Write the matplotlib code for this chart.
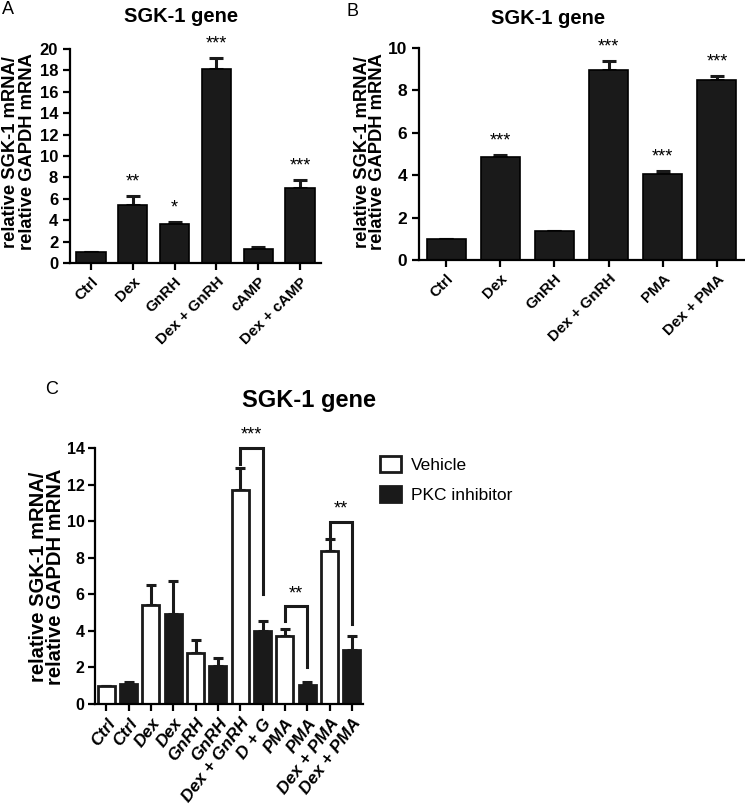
import matplotlib
matplotlib.use("Agg")
import matplotlib.pyplot as plt
import numpy as np
from matplotlib.patches import Patch

plt.rcParams['font.family'] = ['Liberation Sans', 'DejaVu Sans']

# ---- Panel A data ----
a_labels = ["Ctrl", "Dex", "GnRH", "Dex + GnRH", "cAMP", "Dex + cAMP"]
a_values = [1.0, 5.4, 3.6, 18.1, 1.3, 7.0]
a_errors = [0.0, 0.9, 0.2, 1.1, 0.2, 0.8]
a_stars = ["", "**", "*", "***", "", "***"]
a_yticks = [0, 2, 4, 6, 8, 10, 12, 14, 16, 18, 20]

# ---- Panel B data ----
b_labels = ["Ctrl", "Dex", "GnRH", "Dex + GnRH", "PMA", "Dex + PMA"]
b_values = [1.0, 4.85, 1.35, 8.95, 4.05, 8.5]
b_errors = [0.0, 0.12, 0.0, 0.45, 0.15, 0.18]
b_stars = ["", "***", "", "***", "***", "***"]
b_yticks = [0, 2, 4, 6, 8, 10]

# ---- Panel C data ----
c_labels = ["Ctrl", "Ctrl", "Dex", "Dex", "GnRH", "GnRH", "Dex + GnRH", "D + G",
            "PMA", "PMA", "Dex + PMA", "Dex + PMA"]
c_groups = ["Vehicle", "PKC inhibitor"] * 6
c_values = [1.0, 1.1, 5.4, 4.9, 2.8, 2.1, 11.7, 4.0, 3.7, 1.05, 8.35, 2.95]
c_errors = [0.0, 0.1, 1.1, 1.8, 0.7, 0.4, 1.2, 0.55, 0.4, 0.15, 0.7, 0.75]
c_yticks = [0, 2, 4, 6, 8, 10, 12, 14]
# brackets: (left bar, right bar, top, left leg end, right leg end, stars)
c_brackets = [(6, 7, 14.0, 13.1, 6.0, "***"),
              (8, 9, 5.35, 4.55, 2.05, "**"),
              (10, 11, 9.95, 9.15, 4.35, "**")]

ylabel = "relative SGK-1 mRNA/\nrelative GAPDH mRNA"
DARK = "#1a1a1a"

fig = plt.figure(figsize=(7.45, 8.1), dpi=100)
W, H = 745, 810


def axes_px(l, r, t, b):
    return fig.add_axes([l / W, 1 - b / H, (r - l) / W, (b - t) / H])


def style(ax, lw=1.6):
    for s in ["top", "right"]:
        ax.spines[s].set_visible(False)
    for s in ["left", "bottom"]:
        ax.spines[s].set_linewidth(lw)
    ax.tick_params(axis="both", width=lw, length=5, direction="out")


def simple_panel(ax, labels, values, errors, stars, yticks, width, fs_tick, fs_y):
    x = np.arange(len(labels))
    ax.bar(x, values, width=width, color=DARK, edgecolor="black", linewidth=1.2, zorder=2)
    ax.errorbar(x, values, yerr=[np.zeros(len(errors)), errors], fmt="none",
                ecolor=DARK, elinewidth=2.2, capsize=5, capthick=2.2, zorder=1)
    ax.set_xlim(-0.5, len(labels) - 0.5)
    ax.set_ylim(0, yticks[-1])
    ax.set_yticks(yticks)
    ax.set_xticks(x)
    ax.set_xticklabels(labels, rotation=45, ha="right", rotation_mode="anchor",
                       fontweight="bold", fontsize=fs_tick)
    for lab in ax.get_yticklabels():
        lab.set_fontweight("bold")
        lab.set_fontsize(fs_y)
    for xi, v, e, s in zip(x, values, errors, stars):
        if s:
            ax.annotate(s, (xi, v + e), xytext=(0, 4), textcoords="offset points",
                        ha="center", va="bottom", fontsize=13)
    style(ax)


# Panel A
axA = axes_px(70, 321, 49, 263)
simple_panel(axA, a_labels, a_values, a_errors, a_stars, a_yticks, 0.7, 11, 12)
fig.text(19 / W, 1 - 152 / H, ylabel, rotation=90, ha="center", va="center",
         fontsize=13.2, fontweight="bold", linespacing=1.0, multialignment="center")

# Panel B
axB = axes_px(419, 744, 48, 260)
simple_panel(axB, b_labels, b_values, b_errors, b_stars, b_yticks, 0.72, 11, 12.5)
fig.text(370 / W, 1 - 152 / H, ylabel, rotation=90, ha="center", va="center",
         fontsize=13.2, fontweight="bold", linespacing=0.9, multialignment="center")

# Panel C
axC = axes_px(95, 363, 448, 704)
xc = np.arange(len(c_labels))
fills = ["white" if g == "Vehicle" else DARK for g in c_groups]
for xi, v, f in zip(xc, c_values, fills):
    axC.bar(xi, v, width=0.75, color=f, edgecolor=DARK, linewidth=2.0, zorder=2)
axC.errorbar(xc, c_values, yerr=[np.zeros(len(c_errors)), c_errors], fmt="none",
             ecolor=DARK, elinewidth=2.2, capsize=3.3, capthick=2.2, zorder=1)
axC.set_xlim(-0.5, len(c_labels) - 0.5)
axC.set_ylim(0, c_yticks[-1])
axC.set_yticks(c_yticks)
axC.set_xticks(xc)
axC.set_xticklabels(c_labels, rotation=53, ha="right", rotation_mode="anchor",
                    fontweight="bold", fontstyle="italic", fontsize=12.5)
for lab in axC.get_yticklabels():
    lab.set_fontweight("bold")
    lab.set_fontsize(11.5)
style(axC)
axC.tick_params(axis="y", pad=2.5)
fig.text(47 / W, 1 - 577 / H, ylabel, rotation=90, ha="center", va="center",
         fontsize=14.5, fontweight="bold", linespacing=0.82, multialignment="center")
for l, r, top, ll, rl, s in c_brackets:
    axC.plot([l, l, r, r], [ll, top, top, rl], color=DARK, lw=2.2,
             solid_joinstyle="miter", clip_on=False, zorder=3)
    axC.annotate(s, ((l + r) / 2, top), xytext=(0, 3), textcoords="offset points",
                 ha="center", va="bottom", fontsize=13)

# Legend
handles = [Patch(facecolor="white", edgecolor=DARK, linewidth=2.0, label="Vehicle"),
           Patch(facecolor=DARK, edgecolor=DARK, linewidth=2.0, label="PKC inhibitor")]
fig.legend(handles=handles, loc="upper left", bbox_to_anchor=(380 / W, 1 - 456 / H),
           frameon=False, borderpad=0.0, borderaxespad=0.0,
           handlelength=1.2, handleheight=1.05,
           handletextpad=0.6, labelspacing=0.75,
           prop={"family": ["Liberation Sans"], "size": 12.5})

# Titles and panel letters
fig.text(181 / W, 1 - 17 / H, "SGK-1 gene", ha="center", va="center", fontsize=14.5, fontweight="bold")
fig.text(548 / W, 1 - 19 / H, "SGK-1 gene", ha="center", va="center", fontsize=14.5, fontweight="bold")
fig.text(309 / W, 1 - 400 / H, "SGK-1 gene", ha="center", va="center", fontsize=17, fontweight="bold")
fig.text(2 / W, 1 - 10 / H, "A", ha="left", va="center", fontsize=13)
fig.text(347 / W, 1 - 12 / H, "B", ha="left", va="center", fontsize=13)
fig.text(45 / W, 1 - 390 / H, "C", ha="left", va="center", fontsize=13)

fig.savefig("out.png", dpi=100)
